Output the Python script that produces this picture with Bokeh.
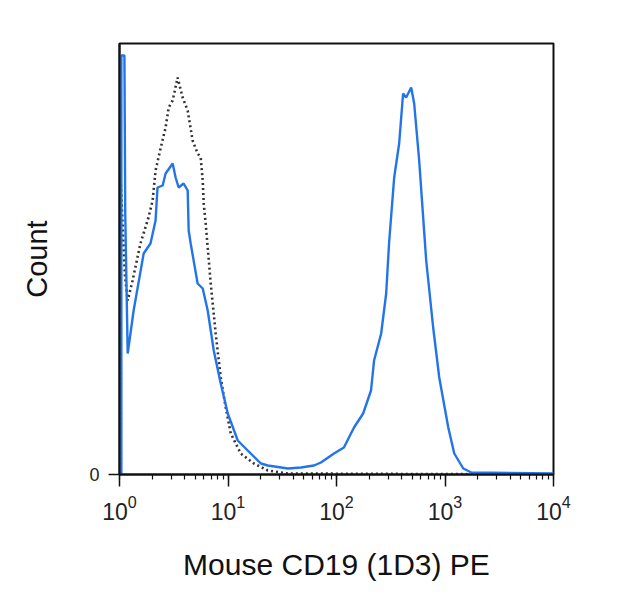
from bokeh.plotting import figure
from bokeh.models import FixedTicker, LogTicker, LogTickFormatter
from bokeh.embed import file_html
from bokeh.resources import INLINE

# ---- data ----
stained_x = [1.04, 1.04, 1.11, 1.13, 1.19, 1.35, 1.67, 1.93, 2.15, 2.24, 2.50, 2.66,
             3.09, 3.29, 3.51, 3.90, 4.25, 4.34, 4.53, 5.25, 5.85, 6.50, 7.39, 8.57,
             9.95, 12.3, 15.2, 20.1, 23.3, 35.6, 47.0, 62.0, 71.9, 94.8, 117, 145,
             176, 208, 222, 258, 287, 305, 340, 378, 411, 438, 488, 520, 578, 671,
             778, 885, 1072, 1217, 1474, 1748, 10000]
stained_y = [0, 419, 419, 260, 121, 164, 221, 231, 254, 287, 289, 301,
             311, 297, 287, 291, 284, 244, 231, 191, 186, 164, 124, 91,
             61, 34, 24, 11, 9, 6, 7, 9, 12, 21, 27, 47,
             61, 84, 114, 141, 181, 231, 297, 331, 381, 377, 387, 371, 314, 214,
             147, 97, 47, 21, 6, 2, 1]

isotype_x = [1.02, 1.02, 1.12, 1.19, 1.32, 1.56, 1.85, 2.02, 2.15, 2.39, 2.66, 2.84,
             3.09, 3.43, 3.82, 4.25, 4.72, 5.25, 5.60, 5.85, 5.97, 6.23, 6.93, 7.70,
             8.57, 9.53, 10.6, 13.1, 17.3, 23.3, 35.6, 10000]
isotype_y = [0, 300, 200, 174, 194, 231, 257, 274, 304, 326, 347, 367,
             374, 397, 377, 364, 334, 321, 317, 294, 271, 251, 191, 141,
             97, 67, 41, 21, 11, 4, 1, 0]

tick_values = [1, 10, 100, 1000, 10000]

x_title = "Mouse CD19 (1D3) PE"
y_title = "Count"

# ---- layout / style ----
FONT = "Liberation Sans"

p = figure(x_axis_type="log", x_range=(1, 10000), y_range=(0, 431),
           frame_width=434, frame_height=431,
           min_border_left=119, min_border_right=60,
           min_border_top=43, min_border_bottom=120,
           output_backend="svg", toolbar_location=None)

p.background_fill_color = "white"
p.border_fill_color = "white"
p.outline_line_color = "#111111"
p.outline_line_width = 2
p.xgrid.visible = False
p.ygrid.visible = False

p.line(isotype_x, isotype_y, line_color="#333333", line_width=2.6,
       line_dash="2 3", line_cap="butt")
p.line(stained_x, stained_y, line_color="#2274e8", line_width=2.4)

# x axis
xa = p.xaxis[0]
xa.ticker = LogTicker(desired_num_ticks=5, num_minor_ticks=10)
xa.formatter = LogTickFormatter()
xa.major_label_text_font = FONT
xa.major_label_text_font_size = "23px"
xa.major_label_text_color = "#222222"
xa.major_label_standoff = 8
xa.major_tick_out = 12
xa.major_tick_in = 0
xa.minor_tick_out = 5
xa.minor_tick_in = 0
xa.major_tick_line_width = 1.5
xa.minor_tick_line_width = 1.2
xa.major_tick_line_color = "#111111"
xa.minor_tick_line_color = "#111111"
xa.axis_line_color = "#111111"
xa.axis_line_width = 2
xa.axis_label = x_title
xa.axis_label_text_font = FONT
xa.axis_label_text_font_size = "30px"
xa.axis_label_text_font_style = "normal"
xa.axis_label_text_color = "#111111"
xa.axis_label_standoff = 25

# y axis
ya = p.yaxis[0]
ya.ticker = FixedTicker(ticks=[0])
ya.minor_tick_line_color = None
ya.major_tick_out = 11
ya.major_tick_in = 0
ya.major_tick_line_width = 1.5
ya.major_tick_line_color = "#111111"
ya.axis_line_color = "#111111"
ya.axis_line_width = 2
ya.major_label_text_font = FONT
ya.major_label_text_font_size = "18px"
ya.major_label_text_color = "#222222"
ya.major_label_standoff = 9
ya.axis_label = y_title
ya.axis_label_text_font = FONT
ya.axis_label_text_font_size = "29px"
ya.axis_label_text_font_style = "normal"
ya.axis_label_text_color = "#111111"
ya.axis_label_standoff = 33

open("out.html", "w").write(file_html(p, INLINE))
